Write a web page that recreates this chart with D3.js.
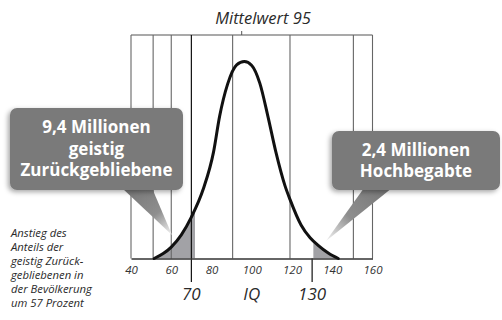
<!DOCTYPE html>
<html>
<head>
<meta charset="utf-8">
<script src="https://cdn.jsdelivr.net/npm/d3@7"></script>
<style>
  html, body { margin: 0; padding: 0; background: #fff; }
  svg { display: block; }
  text { font-family: "Open Sans", "Noto Sans", sans-serif; }
</style>
</head>
<body>
<script>
// IQ distribution curve: sampled IQ values and relative curve height (peak = 100)
const curveIQ = [51.5, 56, 60, 65, 70, 76, 81, 84, 88, 92.5, 96.3, 100, 104, 108, 112, 116.5, 119, 124.5, 129, 133, 138, 143];
const curveHeight = [0, 2.5, 5.8, 12, 21, 35.5, 54, 72, 88.5, 98.3, 100, 98, 89, 72.3, 54, 37, 30, 17, 10.5, 6.7, 2.8, 0];

// Axis ticks and reference values
const tickValues = [40, 60, 80, 100, 120, 140, 160];
const gridValues = [51, 60, 90.5, 119, 150.5];
const meanValue = 95;
const lowThreshold = 70;
const highThreshold = 130;

// Shaded tails (IQ ranges)
const shadeLow = [51.5, 71.8];
const shadeHigh = [131.6, 143];

// Callout texts
const calloutLow = ["9,4 Millionen", "geistig", "Zurückgebliebene"];
const calloutHigh = ["2,4 Millionen", "Hochbegabte"];
const note = ["Anstieg des", "Anteils der", "geistig Zurück-", "gebliebenen in", "der Bevölkerung", "um 57 Prozent"];

const W = 502, H = 320;
const frameTop = 35, baseY = 258.5;

const svg = d3.select("body").append("svg").attr("width", W).attr("height", H);
const defs = svg.append("defs");

const x = d3.scaleLinear().domain([40, 160]).range([131, 372.5]);
const y = d3.scaleLinear().domain([0, 100]).range([baseY, 61.5]);

// drop shadow for callout boxes
const f = defs.append("filter").attr("id", "shadow").attr("x", "-20%").attr("y", "-20%").attr("width", "140%").attr("height", "150%");
f.append("feDropShadow").attr("dx", -2).attr("dy", 2).attr("stdDeviation", 2.5)
  .attr("flood-color", "#000").attr("flood-opacity", 0.35);

// pointer gradients (dark at the box, fading toward the tip)
function pointerGradient(id, x1, y1, x2, y2) {
  const g = defs.append("linearGradient").attr("id", id)
    .attr("gradientUnits", "userSpaceOnUse")
    .attr("x1", x1).attr("y1", y1).attr("x2", x2).attr("y2", y2);
  g.append("stop").attr("offset", 0).attr("stop-color", "#7a7a7a");
  g.append("stop").attr("offset", 0.55).attr("stop-color", "#8e8e8e");
  g.append("stop").attr("offset", 1).attr("stop-color", "#f4f4f4");
}

// clip paths for shaded tails
function clipRange(id, r) {
  defs.append("clipPath").attr("id", id).append("rect")
    .attr("x", x(r[0]) - 2).attr("y", frameTop)
    .attr("width", x(r[1]) - x(r[0]) + 2).attr("height", baseY - frameTop);
}
clipRange("clipLow", shadeLow);
clipRange("clipHigh", shadeHigh);

const pts = curveIQ.map((v, i) => [v, curveHeight[i]]);
const area = d3.area().x(d => x(d[0])).y0(baseY).y1(d => y(d[1])).curve(d3.curveMonotoneX);
const line = d3.line().x(d => x(d[0])).y(d => y(d[1])).curve(d3.curveMonotoneX);

// shaded tails
svg.append("path").datum(pts).attr("d", area).attr("fill", "#a2a2a6").attr("clip-path", "url(#clipLow)");
svg.append("path").datum(pts).attr("d", area).attr("fill", "#a2a2a6").attr("clip-path", "url(#clipHigh)");

// frame and grid lines
const grid = svg.append("g");
grid.append("line").attr("x1", x(40)).attr("x2", x(160)).attr("y1", frameTop).attr("y2", frameTop)
  .attr("stroke", "#555").attr("stroke-width", 1.2);
[40, 160].concat(gridValues).forEach(v => {
  grid.append("line").attr("x1", x(v)).attr("x2", x(v)).attr("y1", frameTop).attr("y2", baseY)
    .attr("stroke", "#666").attr("stroke-width", 1.1);
});
// threshold markers
grid.append("line").attr("x1", x(lowThreshold)).attr("x2", x(lowThreshold)).attr("y1", frameTop).attr("y2", 282)
  .attr("stroke", "#111").attr("stroke-width", 1.2);
grid.append("line").attr("x1", x(highThreshold)).attr("x2", x(highThreshold)).attr("y1", baseY).attr("y2", 282)
  .attr("stroke", "#111").attr("stroke-width", 1.2);
// mean tick
grid.append("line").attr("x1", x(meanValue)).attr("x2", x(meanValue)).attr("y1", frameTop - 4).attr("y2", frameTop)
  .attr("stroke", "#555").attr("stroke-width", 1);

// x axis
const axis = svg.append("g").attr("transform", `translate(0,${baseY})`)
  .call(d3.axisBottom(x).tickValues(tickValues).tickSize(0).tickPadding(7));
axis.select(".domain").attr("stroke", "#333").attr("stroke-width", 1.5);
axis.selectAll(".tick text").attr("font-size", 11.5).attr("font-style", "italic").attr("fill", "#333")
  .attr("font-family", "'Open Sans', sans-serif");

// curve
svg.append("path").datum(pts).attr("d", line).attr("fill", "none")
  .attr("stroke", "#111").attr("stroke-width", 3).attr("stroke-linecap", "round");

// labels
svg.append("text").attr("x", 263).attr("y", 24).attr("text-anchor", "middle")
  .attr("font-size", 16.5).attr("font-style", "italic").attr("fill", "#2a2a2a").text("Mittelwert " + meanValue);
svg.append("text").attr("x", x(lowThreshold)).attr("y", 300).attr("text-anchor", "middle")
  .attr("font-size", 17).attr("font-style", "italic").attr("fill", "#2a2a2a").text(lowThreshold);
svg.append("text").attr("x", x(100)).attr("y", 300).attr("text-anchor", "middle")
  .attr("font-size", 17).attr("font-style", "italic").attr("fill", "#2a2a2a").text("IQ");
svg.append("text").attr("x", x(highThreshold)).attr("y", 300).attr("text-anchor", "middle")
  .attr("font-size", 17).attr("font-style", "italic").attr("fill", "#2a2a2a").text(highThreshold);

// note text
const nt = svg.append("text").attr("x", 11).attr("font-size", 11.3).attr("font-style", "italic")
  .attr("fill", "#2a2a2a");
note.forEach((s, i) => nt.append("tspan").attr("x", 11).attr("y", 237 + i * 14).text(s));

// callouts
function callout(box, tri, lines, baselines, gradId) {
  const [bx, by, bw, bh] = box;
  pointerGradient(gradId, (tri[0][0] + tri[1][0]) / 2, tri[0][1], tri[2][0], tri[2][1]);
  const g = svg.append("g");
  g.append("path").attr("d", d3.line()(tri) + "Z").attr("fill", `url(#${gradId})`);
  g.append("rect").attr("x", bx).attr("y", by).attr("width", bw).attr("height", bh)
    .attr("rx", 7).attr("fill", "#7a7a7a").attr("filter", "url(#shadow)");
  lines.forEach((s, i) => g.append("text").attr("text-anchor", "middle").attr("font-size", 17)
    .attr("font-family", "Roboto, 'Open Sans', sans-serif")
    .attr("font-weight", 700).attr("fill", "#fff")
    .attr("x", bx + bw / 2).attr("y", baselines[i]).text(s));
}
callout([10, 108, 173, 82], [[122, 188], [152, 188], [172, 235]], calloutLow, [133, 154.5, 175.5], "gLow");
callout([332, 131, 168, 59], [[364, 188], [392, 188], [326, 241]], calloutHigh, [155.5, 177], "gHigh");
</script>
</body>
</html>
